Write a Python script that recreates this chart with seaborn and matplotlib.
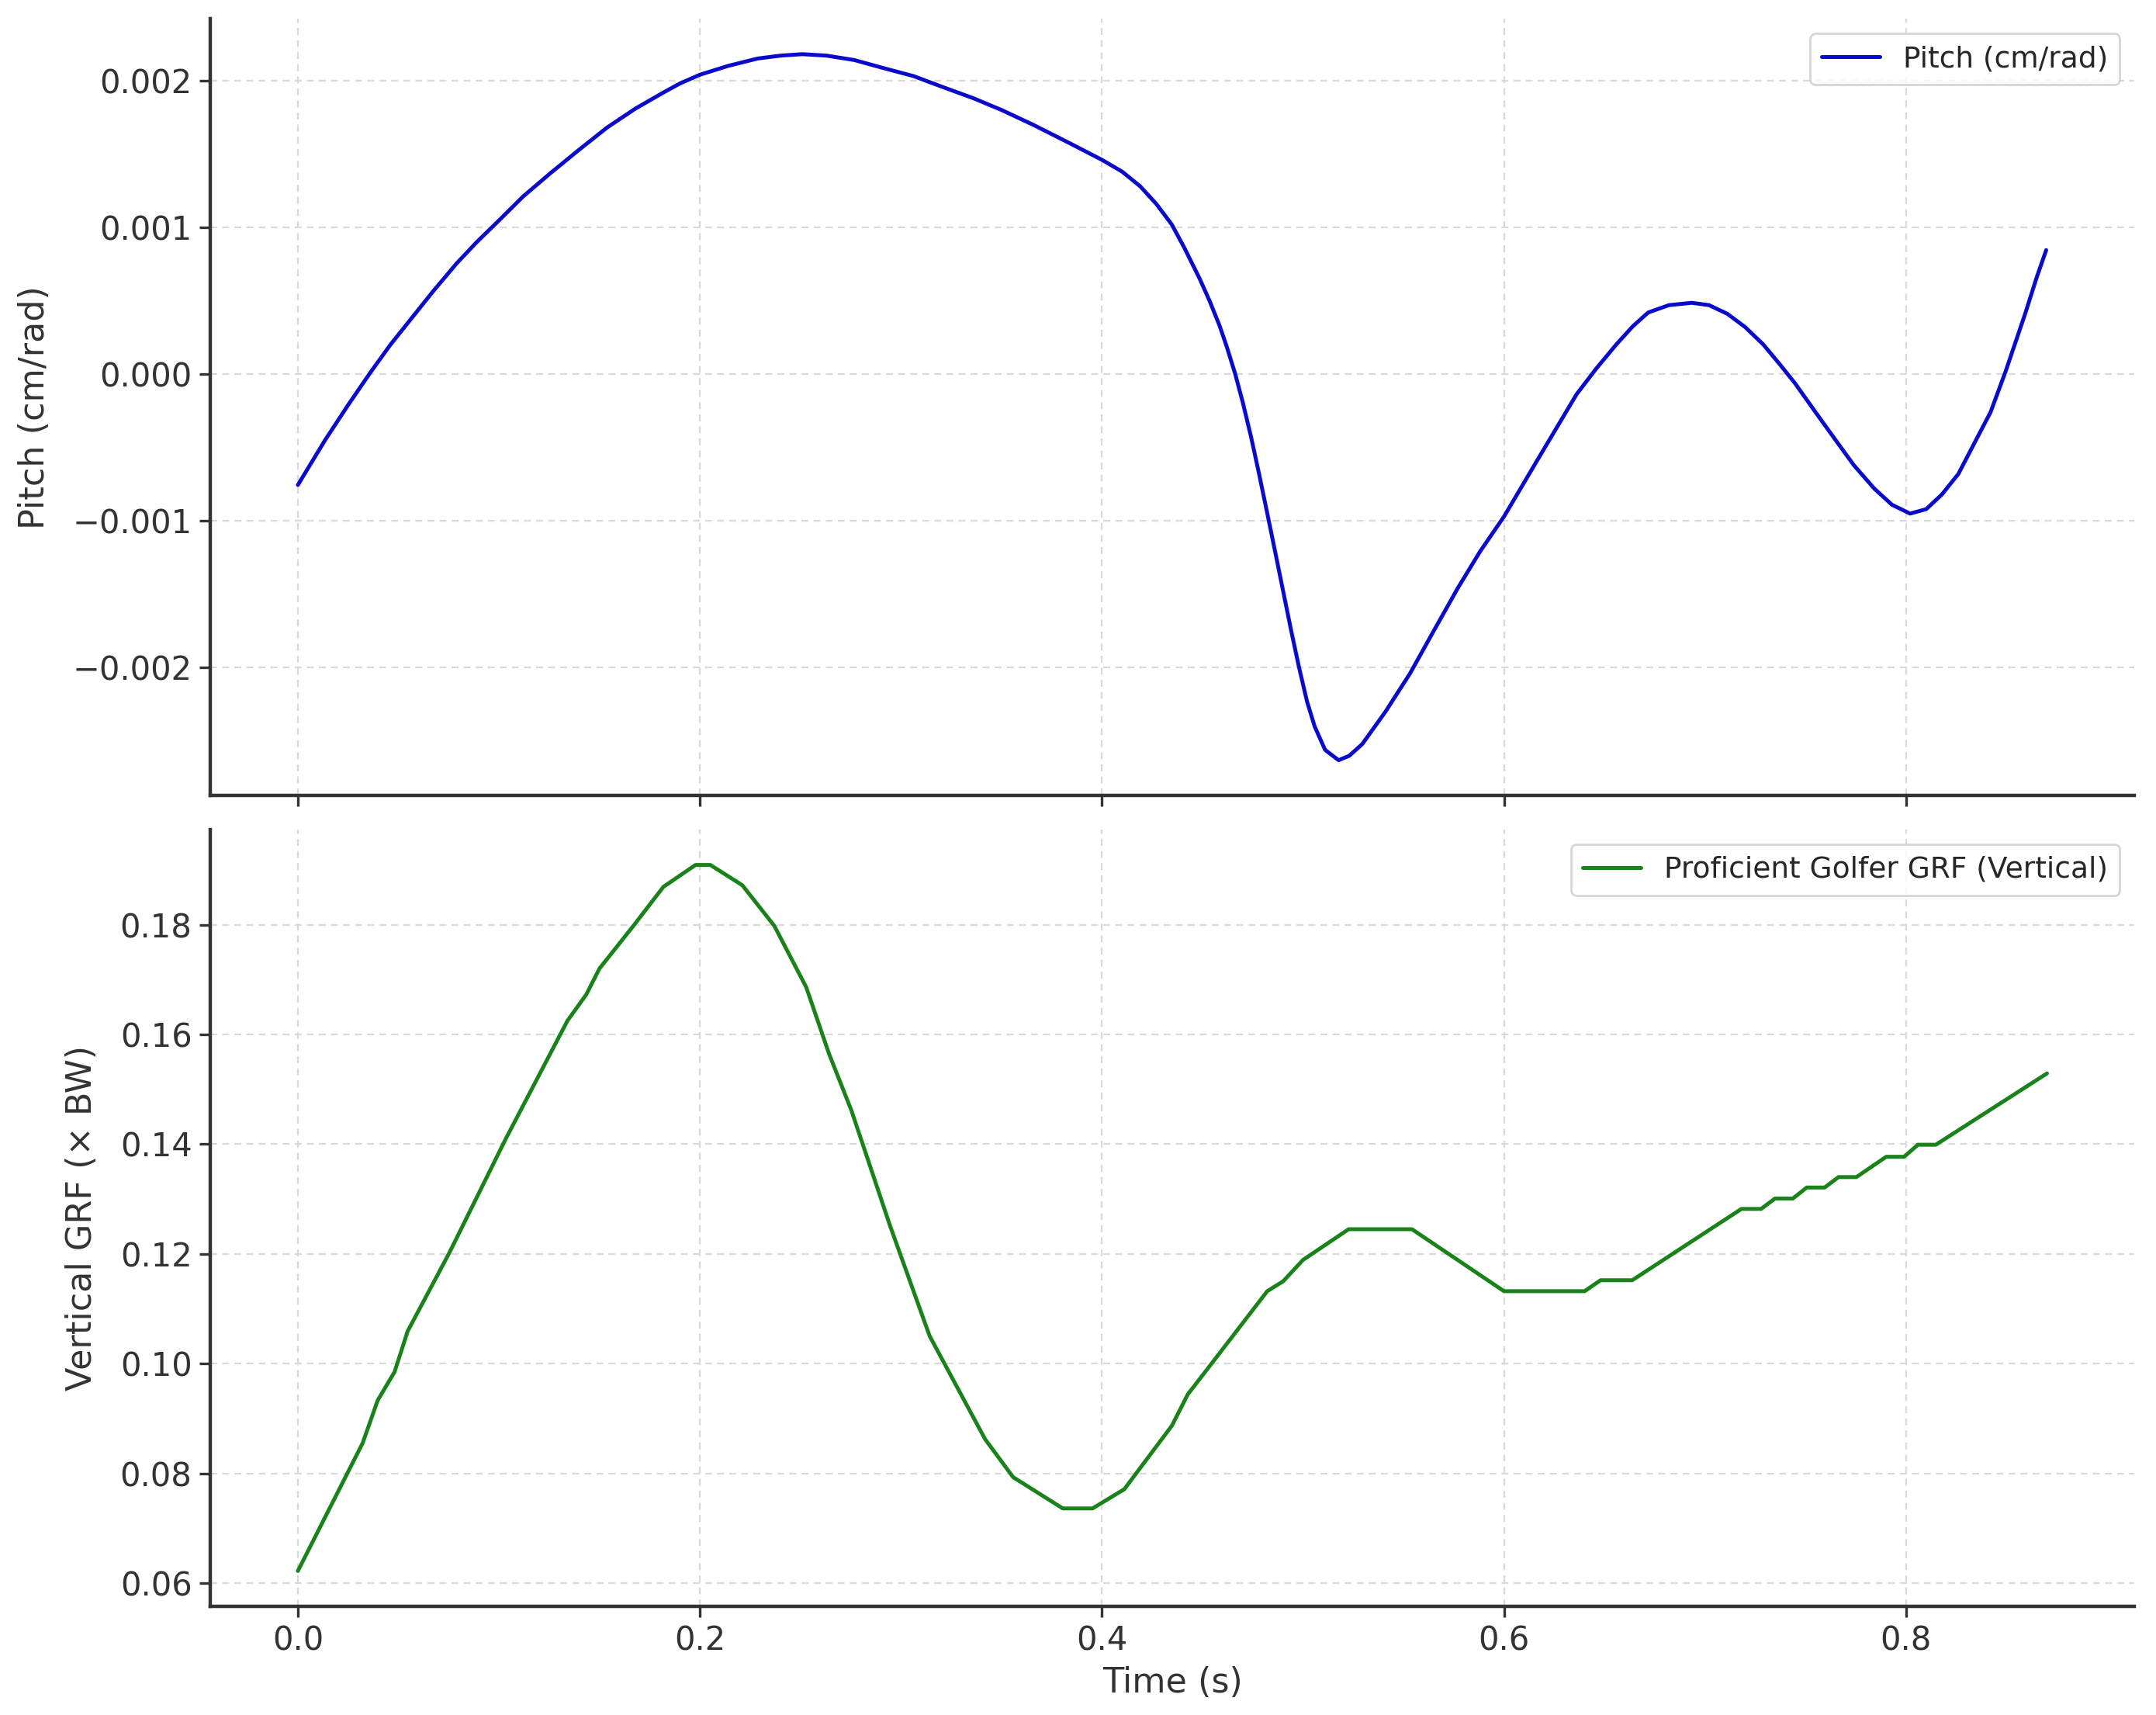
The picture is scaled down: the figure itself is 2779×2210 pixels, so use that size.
import matplotlib
matplotlib.use("Agg")
import matplotlib.pyplot as plt
import seaborn as sns
import pandas as pd

# Pitch curve
pitch_t = [0.000, 0.0135, 0.025, 0.036, 0.046, 0.0565, 0.067, 0.079, 0.089, 0.0995,
           0.112, 0.1257, 0.140, 0.1538, 0.168, 0.182, 0.190, 0.200, 0.214, 0.2286,
           0.240, 0.251, 0.263, 0.2768, 0.290, 0.3064, 0.320, 0.336, 0.350, 0.3656,
           0.383, 0.400, 0.410, 0.419, 0.427, 0.4347, 0.441, 0.4486, 0.4535, 0.4585,
           0.462, 0.4663, 0.470, 0.4742, 0.478, 0.4821, 0.486, 0.490, 0.494, 0.4979,
           0.502, 0.5058, 0.511, 0.5177, 0.523, 0.5295, 0.541, 0.5532, 0.565, 0.5769,
           0.588, 0.600, 0.6164, 0.6361, 0.646, 0.6559, 0.664, 0.6717, 0.682, 0.6934,
           0.702, 0.7111, 0.720, 0.7289, 0.737, 0.7447, 0.755, 0.7644, 0.774, 0.7842,
           0.793, 0.802, 0.810, 0.8178, 0.826, 0.8336, 0.842, 0.8494, 0.8545, 0.8592,
           0.865, 0.8697]
pitch_v = [-0.000755, -0.00045, -0.00021, 0.00001, 0.0002, 0.00038, 0.00056, 0.000755, 0.0009, 0.00104,
           0.00121, 0.00137, 0.00153, 0.00168, 0.00181, 0.00192, 0.00198, 0.00204, 0.0021, 0.00215,
           0.00217, 0.00218, 0.00217, 0.00214, 0.00209, 0.00203, 0.00196, 0.00188, 0.0018, 0.0017,
           0.00158, 0.00146, 0.00138, 0.00128, 0.00116, 0.00102, 0.00086, 0.00065, 0.0005, 0.00033,
           0.00019, 0.0, -0.00019, -0.00043, -0.00067, -0.00094, -0.0012, -0.00147, -0.00174, -0.00199,
           -0.00223, -0.0024, -0.00256, -0.00263, -0.0026, -0.00252, -0.0023, -0.00204, -0.00175, -0.00146,
           -0.00121, -0.00097, -0.00059, -0.000137, 0.00004, 0.000203, 0.000325, 0.00042, 0.00047, 0.000486,
           0.00047, 0.000411, 0.00032, 0.000203, 0.00007, -0.0000614, -0.00026, -0.000439, -0.00062, -0.00078,
           -0.00089, -0.00095, -0.00092, -0.00082, -0.00068, -0.00048, -0.00026, 0.0000142, 0.00022, 0.00041,
           0.00066, 0.000845]

# Vertical GRF
grf_t = [0.000, 0.0322, 0.0397, 0.0481, 0.0546, 0.0752, 0.1033, 0.1341, 0.1435, 0.150,
         0.1669, 0.1818, 0.1978, 0.2052, 0.2211, 0.237, 0.2529, 0.2642, 0.2754, 0.2946,
         0.3143, 0.3419, 0.3558, 0.3805, 0.3953, 0.4111, 0.4348, 0.4427, 0.4545, 0.4822,
         0.4901, 0.500, 0.5227, 0.5542, 0.600, 0.6401, 0.648, 0.6638, 0.7181, 0.7279,
         0.7348, 0.7437, 0.7506, 0.7595, 0.7664, 0.7753, 0.7901, 0.799, 0.8059, 0.8148,
         0.8701]
grf_v = [0.0622, 0.0855, 0.0933, 0.0985, 0.1059, 0.1201, 0.1409, 0.1625, 0.1673, 0.1720,
         0.1798, 0.1869, 0.1909, 0.1909, 0.1872, 0.1798, 0.1686, 0.1565, 0.1461, 0.1251,
         0.1050, 0.0862, 0.0793, 0.0736, 0.0736, 0.0771, 0.0887, 0.0944, 0.1000, 0.1132,
         0.1150, 0.1189, 0.1245, 0.1245, 0.1132, 0.1132, 0.1152, 0.1152, 0.1282, 0.1282,
         0.1301, 0.1301, 0.1321, 0.1321, 0.1340, 0.1340, 0.1377, 0.1377, 0.1399, 0.1399,
         0.1529]

pitch_df = pd.DataFrame({'Time (s)': pitch_t, 'Pitch': pitch_v})
grf_df = pd.DataFrame({'Time (s)': grf_t, 'GRF': grf_v})

sns.set_style("ticks")
plt.rcParams['font.family'] = ['DejaVu Sans']

fig, (ax1, ax2) = plt.subplots(2, 1, sharex=True, figsize=(13.895, 11.05), dpi=200)
fig.subplots_adjust(left=0.0976, right=0.99, top=0.989, bottom=0.0634, hspace=0.044)

sns.lineplot(data=pitch_df, x='Time (s)', y='Pitch', color='#0a0acc', linewidth=1.8,
             estimator=None, sort=False, label='Pitch (cm/rad)', ax=ax1)
sns.lineplot(data=grf_df, x='Time (s)', y='GRF', color='#1a821a', linewidth=1.8,
             estimator=None, sort=False, label='Proficient Golfer GRF (Vertical)', ax=ax2)

ax1.set_ylabel('Pitch (cm/rad)', fontsize=16, color='#333333', labelpad=10)
ax1.set_xlabel('')
ax2.set_ylabel('Vertical GRF (× BW)', fontsize=16, color='#333333', labelpad=10)
ax2.set_xlabel('Time (s)', fontsize=16, color='#333333')

ax1.set_yticks([-0.002, -0.001, 0.0, 0.001, 0.002])
ax2.set_yticks([0.06, 0.08, 0.10, 0.12, 0.14, 0.16, 0.18])
ax2.set_xticks([0.0, 0.2, 0.4, 0.6, 0.8])

for ax in (ax1, ax2):
    sns.despine(ax=ax)
    ax.grid(True, linestyle=(0, (4, 3)), color='#d9d9d9', linewidth=0.8)
    ax.tick_params(labelsize=15, colors='#333333', length=5, width=1.2)
    for s in ('left', 'bottom'):
        ax.spines[s].set_linewidth(1.6)
        ax.spines[s].set_color('#333333')
    ax.legend(loc='upper right', fontsize=13.5, frameon=True)

fig.savefig('out.png', dpi=200)
